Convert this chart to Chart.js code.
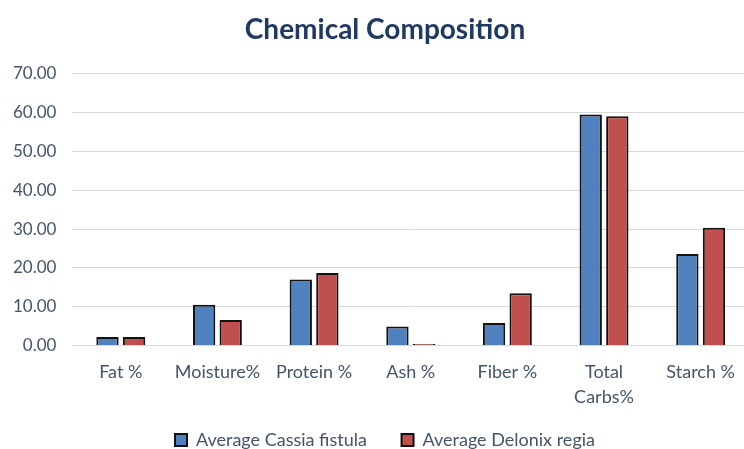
<!DOCTYPE html>
<html>
<head>
<meta charset="utf-8">
<script src="https://cdn.jsdelivr.net/npm/chart.js@4/dist/chart.umd.min.js"></script>
<style>
  html, body { margin: 0; padding: 0; background: #fff; overflow: hidden; }
  #wrap { width: 776px; height: 459px; margin-left: -3px; }
</style>
</head>
<body>
<div id="wrap"><canvas id="compChart" width="776" height="459"></canvas></div>
<script>
// Datos
const categories = ['Fat %', 'Moisture%', 'Protein %', 'Ash %', 'Fiber %', ['Total', 'Carbs%'], 'Starch %'];
const cassiaFistula = [2.2, 10.5, 17.0, 4.9, 5.8, 59.5, 23.6];
const delonixRegia = [2.2, 6.6, 18.7, 0.4, 13.5, 59.0, 30.3];
const yTicks = [0, 10, 20, 30, 40, 50, 60, 70];

const labelColor = '#44546A';
const fontFamily = 'Lato, "Open Sans", sans-serif';

const ctx = document.getElementById('compChart').getContext('2d');
new Chart(ctx, {
    type: 'bar',
    data: {
        labels: categories,
        datasets: [{
            label: 'Average Cassia fistula',
            data: cassiaFistula,
            backgroundColor: '#4F81BD',
            borderColor: '#111111',
            borderWidth: 2,
            barPercentage: 0.84,
            categoryPercentage: 0.55
        }, {
            label: 'Average Delonix regia',
            data: delonixRegia,
            backgroundColor: '#C0504D',
            borderColor: '#111111',
            borderWidth: 2,
            barPercentage: 0.84,
            categoryPercentage: 0.55
        }]
    },
    options: {
        responsive: false,
        animation: false,
        layout: { padding: { left: 0, right: 0, top: 10, bottom: 0 } },
        plugins: {
            title: {
                display: true,
                text: 'Chemical Composition',
                color: '#1F3864',
                font: { family: fontFamily, size: 28, weight: 'bold' },
                padding: { top: 3, bottom: 27 }
            },
            legend: {
                position: 'bottom',
                labels: {
                    color: labelColor,
                    font: { family: fontFamily, size: 18 },
                    boxWidth: 12,
                    boxHeight: 12,
                    padding: 7,
                    // un poco más de espacio entre las dos entradas
                    generateLabels: chart => {
                        const items = Chart.defaults.plugins.legend.labels.generateLabels(chart);
                        items[0].text += '      ';
                        return items;
                    }
                }
            },
            tooltip: { enabled: false }
        },
        scales: {
            y: {
                min: 0,
                max: 70,
                afterBuildTicks: axis => { axis.ticks = yTicks.map(v => ({ value: v })); },
                ticks: {
                    color: labelColor,
                    font: { family: fontFamily, size: 17 },
                    padding: 16,
                    callback: v => Number(v).toFixed(2)
                },
                grid: { color: '#D9D9D9', drawTicks: false },
                border: { display: false }
            },
            // eje vacío a la derecha solo para dejar margen
            yRight: {
                position: 'right',
                ticks: { display: false },
                grid: { display: false },
                border: { display: false },
                afterFit: axis => { axis.width = 24; }
            },
            x: {
                ticks: {
                    color: labelColor,
                    font: { family: fontFamily, size: 18, lineHeight: 1.4 },
                    padding: 14,
                    maxRotation: 0
                },
                grid: { display: false, drawTicks: false },
                border: { color: '#D9D9D9' }
            }
        }
    }
});
</script>
</body>
</html>
